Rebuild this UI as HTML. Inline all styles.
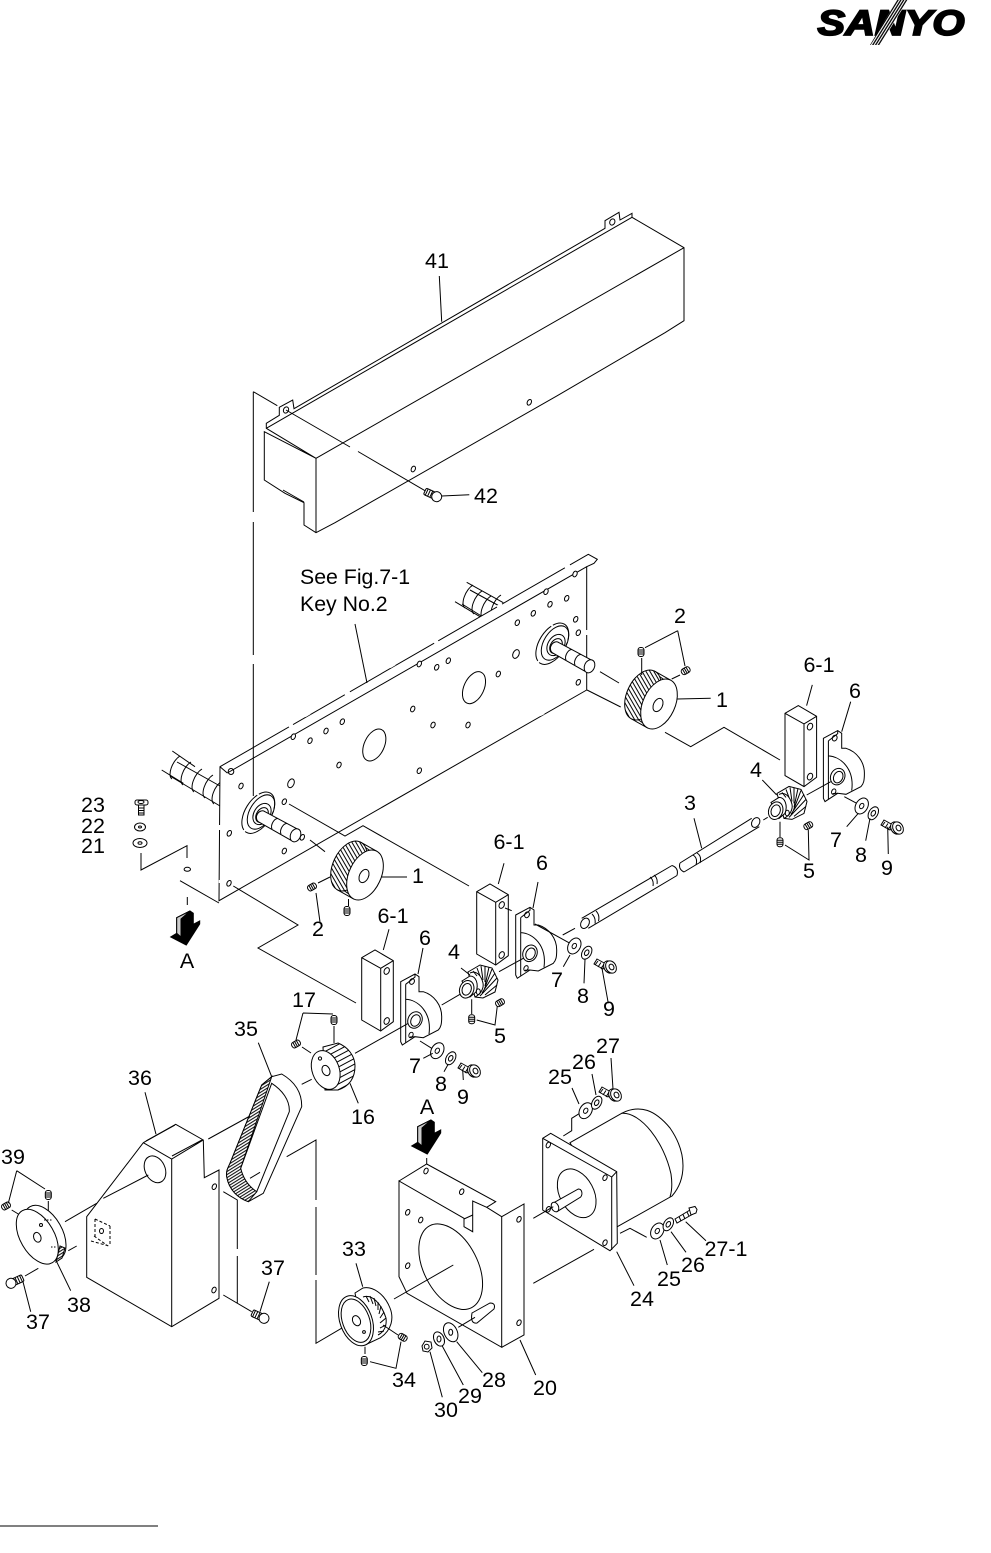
<!DOCTYPE html>
<html><head><meta charset="utf-8"><title>SANYO exploded parts diagram</title>
<style>
html,body{margin:0;padding:0;background:#fff}
svg{display:block}
text{font-family:"Liberation Sans",sans-serif;font-size:21.5px;fill:#000;text-anchor:middle}
text.l{text-anchor:start;font-size:21.3px}
.s{fill:none;stroke:#000;stroke-width:1}
.w{fill:#fff;stroke:#000;stroke-width:1}
.g{fill:none;stroke:#fff;stroke-width:2.5}
</style></head><body>
<svg xmlns="http://www.w3.org/2000/svg" width="991" height="1553" viewBox="0 0 991 1553">
<defs>
<pattern id="h" patternUnits="userSpaceOnUse" width="3.4" height="3.4" patternTransform="rotate(35)"><rect width="3.4" height="3.4" fill="#fff"/><line x1="0" y1="1" x2="3.4" y2="1" stroke="#000" stroke-width="1"/></pattern>
<pattern id="h3" patternUnits="userSpaceOnUse" width="5" height="5" patternTransform="rotate(-28)"><rect width="5" height="5" fill="#fff"/><line x1="0" y1="1" x2="5" y2="1" stroke="#000" stroke-width="1"/></pattern>
<pattern id="b" patternUnits="userSpaceOnUse" width="2.6" height="2.6" patternTransform="rotate(-32)"><rect width="2.6" height="2.6" fill="#fff"/><line x1="0" y1="1" x2="2.6" y2="1" stroke="#000" stroke-width="1"/></pattern>
<pattern id="n" patternUnits="userSpaceOnUse" width="2.4" height="2.4" patternTransform="rotate(-58)"><rect width="2.4" height="2.4" fill="#fff"/><line x1="0" y1="0.8" x2="2.4" y2="0.8" stroke="#000" stroke-width="1.3"/></pattern>

<g id="ho"><ellipse rx="2" ry="3" transform="rotate(25)" class="w"/></g>
<g id="hb"><ellipse rx="3" ry="4.6" transform="rotate(25)" class="w"/></g>

<g id="ss"><rect x="-4.5" y="-3" width="9" height="6" rx="2.5" class="w"/><path class="s" d="M-2-3V3M0-3V3M2-3V3"/></g>

<g id="scr"><rect x="-13" y="-3.500" width="10" height="7" rx="1.500" class="w"/><path class="s" d="M-11-3.500V3.500M-8.500-3.500V3.500M-6-3.500V3.500"/><circle r="5" class="w"/></g>

<g id="arc"><path class="s" d="M5-11A6.5 13.5 28 0 0-3 12"/></g>

<g id="pul"><path d="M11.9-23.7L-4.1-32.7L-27.9 14.7L-11.9 23.7Z" fill="url(#h)" stroke="#000"/><ellipse cx="-16" cy="-9" rx="16" ry="26.5" transform="rotate(25 -16 -9)" fill="url(#h)" stroke="#000"/><ellipse rx="16" ry="26.5" transform="rotate(25)" class="w"/><ellipse cx="-1" cy="1" rx="4.5" ry="7" transform="rotate(25 -1 1)" class="w"/></g>

<g id="bearing">
<ellipse cx="258.3" cy="812.7" rx="13" ry="23" transform="rotate(32 258.3 812.7)" class="w" stroke-dasharray="30 2 40 2"/>
<ellipse cx="261" cy="812" rx="11" ry="19" transform="rotate(32 261 812)" class="s"/>
<ellipse cx="262" cy="814" rx="8" ry="11.5" transform="rotate(32 262 814)" class="s"/>
<ellipse cx="262" cy="815" rx="5.5" ry="8" transform="rotate(32 262 815)" class="s"/>
<path class="w" d="M265 811.7L299.3 830L291.7 840.7L258.3 821.7A5 6 25 0 1 265 811.7Z"/>
<ellipse cx="295.5" cy="835.3" rx="5" ry="6.8" transform="rotate(25 295.5 835.3)" class="w"/>
<path class="s" d="M278 818.5A4 6.500 25 0 0 272 829M287 823.500A4 6.500 25 0 0 281 834"/>
</g>

<g id="block">
<path class="w" d="M361.700 957.700L375 950L393.300 960.700V1021.700L380.700 1031L361.700 1020Z"/>
<path class="s" d="M361.700 957.700L380.700 968.300L393.300 960.700M380.700 968.300V1031"/>
<ellipse cx="386.700" cy="971" rx="2.500" ry="3.500" transform="rotate(25 386.700 971)" class="s"/>
<ellipse cx="386.700" cy="1021" rx="2.500" ry="3.500" transform="rotate(25 386.700 1021)" class="s"/>
</g>

<g id="brk">
<path class="w" d="M400.700 981.700L415 974L419 976.700V991.700H423.300C434 995 441.700 1005 441.700 1016.700C441.700 1024 441 1027 438.300 1030L423.300 1037.700L415 1036.700L402.300 1045L400.700 1041.700Z"/>
<path class="s" d="M405.700 984.300V999.300C418 1000 432 1012 429 1034M405.700 999.300V1042.500M415 974V977L405.700 984.300M410 1037L415 1036.700"/>
<ellipse cx="415" cy="1020" rx="7" ry="8.500" transform="rotate(25 415 1020)" class="w"/>
<ellipse cx="415.500" cy="1020.500" rx="4.500" ry="6" transform="rotate(25 415.500 1020.500)" class="s"/>
<ellipse cx="412" cy="981.500" rx="2.300" ry="3" transform="rotate(25 412 981.500)" class="s"/>
<ellipse cx="411" cy="1035" rx="2" ry="2.800" transform="rotate(25 411 1035)" class="s"/>
</g>

<g id="gear4">
<path class="w" d="M468 972L480 965L492 968L498 980L495 992L483 998L475 997Z"/>
<path class="s" d="M470 973C476 970 481 975 483 983C484 988 481 994 475 997"/>
<path class="s" d="M473 971L477 976M477 968L480 976M481 966L483 980M485 966L485 982M489 967L485 986M492 969L484 990M495 973L482 993M497 978L480 996M497 985L485 995"/>
<path class="w" d="M462 981L470 976C476 976 479 984 476 992L470 997Z"/>
<ellipse cx="466.700" cy="989.300" rx="7" ry="9" transform="rotate(20 466.700 989.300)" class="w"/>
<ellipse cx="466.700" cy="989.300" rx="4.500" ry="6" transform="rotate(20 466.700 989.300)" class="s"/>
<ellipse cx="478.300" cy="991.700" rx="2" ry="2.800" class="s"/>
</g>

<g id="wash"><ellipse rx="6" ry="8.500" transform="rotate(30)" class="w"/><ellipse rx="2" ry="2.800" transform="rotate(30)" class="s"/></g>
<g id="wash2"><ellipse rx="4.500" ry="7" transform="rotate(30)" class="w"/><ellipse rx="2" ry="3" transform="rotate(30)" class="s"/></g>

<g id="bolt">
<path class="w" d="M-13-7L-4-2L-7 3L-16-2Z"/>
<path class="s" d="M-12-5L-15-1M-9-3.500L-12 1M-6-2L-9 3"/>
<ellipse cx="-1" cy="1" rx="5" ry="6.500" transform="rotate(-30 -1 1)" class="w"/>
<ellipse cx="1" cy="1" rx="5" ry="6.500" transform="rotate(-30 1 1)" class="w"/>
<ellipse cx="1.500" cy="1" rx="2.300" ry="3" transform="rotate(-30 1.500 1)" class="s"/>
</g>

<g id="arrow">
<path fill="#000" stroke="#000" d="M427.300 1154L411.700 1146L417.700 1142.300L417.700 1126.700L431 1120L434.300 1122.300V1133.300L440.700 1130V1133Z"/>
<path fill="#ccc" stroke="#000" d="M417.700 1142.300V1126.700L431 1120L422 1128V1146Z"/>
</g>
</defs>

<!-- SANYO logo -->
<text x="891" y="35" textLength="147" lengthAdjust="spacingAndGlyphs" style="font-size:35px;font-weight:bold;font-style:italic;stroke:#000;stroke-width:1.800">SANYO</text>
<path d="M870 45L880 45L908 0L897 0Z" fill="url(#n)"/>

<!-- cover 41 -->
<path class="w" d="M266.300 423.300L279.300 415.300V407.300L292.700 400L294 408.700L605 228.300V220.700L619 212.300L620 220L632 213.300V217.300L684 247.700V320.700L665 332.700L557.300 395.700L371.700 501.700L335 522.700L316 532.700L304 525V502.700L285 493.300L264.300 480V431.700L316 458.300L266.300 428.300Z"/>
<path class="s" d="M266.300 428.300L632 217.300M316 458.300L684 247.700M316 458.300V532.700M283 490L304 502"/>
<ellipse cx="286" cy="410" rx="2.500" ry="3.200" transform="rotate(25 286 410)" class="s"/>
<ellipse cx="612.300" cy="222" rx="2.500" ry="3.200" transform="rotate(25 612.300 222)" class="s"/>
<use href="#ho" x="529.300" y="402.300"/><use href="#ho" x="413.300" y="469"/>
<path class="s" d="M253.300 391.700L277.300 405.700M286 410L350 447M358 451.500L426.700 491.700"/>
<use href="#scr" transform="translate(436.700,496.700) rotate(25)"/>
<path class="s" d="M441.700 496L469.300 494.700M439.300 276L441.700 321.700"/>

<!-- rollers behind plate -->
<path class="s" d="M172.300 751L195 766.700M161.700 770L183.300 783.300M466.700 582.300L503.300 602.700M455 601.700L480 616.700"/>
<g>
<use href="#arc" x="175" y="767"/><use href="#arc" x="186" y="773"/><use href="#arc" x="197" y="780"/><use href="#arc" x="208" y="786"/><use href="#arc" x="217" y="792"/>
<path class="s" d="M177 762L220 786M170 776L220 806"/>
<use href="#arc" x="468" y="596"/><use href="#arc" x="477" y="602"/><use href="#arc" x="486" y="607"/><use href="#arc" x="496" y="606"/>
<path class="s" d="M470 590L503 608M462 604L483 617"/>
</g>

<!-- plate -->
<path class="w" d="M220 766.700L588.300 554.300L597.300 559.300L594 563.300L586.700 566.700V690L219 900.700Z"/>
<path class="s" d="M227.300 773L586.700 566.700M220 766.700L227.300 773"/>
<path class="g" d="M289 727L293 724.500M345 695L350 692M434 643L438 640.500M497 607L502 604M565 568L570 565M305 716L310 713M390 667L395 664M220 825V830M292 853L296 851M410 786L415 783M480 746L484 744M345 816L350 813M540 715L544 713M586.700 630V635M220 880V883"/>
<ellipse cx="231" cy="771.500" rx="2.800" ry="3" class="s"/>
<g>
<use href="#ho" x="241" y="786"/><use href="#ho" x="284.300" y="801.700"/><use href="#ho" x="229.300" y="833.300"/><use href="#ho" x="284.300" y="851"/><use href="#ho" x="229" y="883.300"/><use href="#ho" x="302.300" y="837.300"/><use href="#ho" x="339" y="765"/><use href="#ho" x="310" y="740.700"/><use href="#ho" x="326" y="731"/><use href="#ho" x="342.300" y="721.700"/><use href="#ho" x="293.300" y="736.700"/><use href="#ho" x="412.700" y="709"/><use href="#ho" x="433" y="725"/><use href="#ho" x="468" y="725"/><use href="#ho" x="419.300" y="770.700"/><use href="#ho" x="498.300" y="674"/><use href="#ho" x="436.700" y="667.300"/><use href="#ho" x="448.300" y="660.700"/><use href="#ho" x="419.300" y="664"/><use href="#ho" x="517.300" y="622.700"/><use href="#ho" x="533.300" y="613.300"/><use href="#ho" x="550" y="604.300"/><use href="#ho" x="566.700" y="598.300"/><use href="#ho" x="546" y="591.700"/><use href="#ho" x="575" y="574"/><use href="#ho" x="575.700" y="619.300"/><use href="#ho" x="578.300" y="632.700"/><use href="#ho" x="578.300" y="682.300"/>
<use href="#hb" x="291" y="783.300"/><use href="#hb" x="516" y="654"/>
</g>
<ellipse cx="374.300" cy="745" rx="10" ry="17" transform="rotate(25 374.300 745)" class="s"/>
<ellipse cx="474" cy="687.700" rx="10" ry="17" transform="rotate(25 474 687.700)" class="s"/>
<use href="#bearing"/>
<use href="#bearing" x="294" y="-169"/>
<path class="s" d="M253.300 391.700V512M253.300 522V655M253.300 664V796"/>
<path class="s" d="M355 624L367 683"/>
<path class="s" d="M600 671.700L619 683M587 690L620.700 707"/>
<path class="s" d="M289 804L345 836L363 825.700L469 886M233.300 886L298 925L258 948L356 1003M310 840L325 851.700"/>

<!-- left fasteners -->
<rect x="135" y="800" width="13" height="5" rx="2" class="w"/>
<path class="s" d="M138.500 805V815H144V805M138.500 808H144M138.500 810.500H144M138.500 813H144"/>
<ellipse cx="141" cy="802" rx="3" ry="1.500" class="s"/>
<ellipse cx="140" cy="827" rx="5.500" ry="4" class="w"/><ellipse cx="140" cy="827" rx="1.500" ry="1" class="s"/>
<ellipse cx="140" cy="843" rx="7" ry="4.500" class="w"/><ellipse cx="140" cy="843" rx="2" ry="1.300" class="s"/>
<path class="s" d="M141 853V870L187 845.700V858M180 880.700L219 903M187.300 897V905"/>
<ellipse cx="187.300" cy="869.300" rx="3.200" ry="2" class="s"/>
<g transform="translate(-241,-209)"><use href="#arrow"/></g>

<!-- pulleys 1 -->
<use href="#pul" transform="translate(365,875)"/>
<use href="#pul" transform="translate(659,704)"/>
<path class="s" d="M381 877L407 877M677.300 699L710.700 698.300"/>
<use href="#ss" transform="translate(312,887) rotate(-30)"/>
<use href="#ss" transform="translate(347,911) rotate(90)"/>
<path class="s" d="M318 883L330 877M348.500 899V906M316 893L320 922"/>
<use href="#ss" transform="translate(641,652) rotate(90)"/>
<use href="#ss" transform="translate(685.700,670.700) rotate(-30)"/>
<path class="s" d="M677.700 630.700L645 647.700M677.700 630.700L685 666M641.700 658V675M671.700 679L680 675"/>
<path class="s" d="M665 732.300L690.700 746.700L724 727.300L780 760"/>

<!-- blocks and brackets -->
<use href="#block"/><use href="#block" x="115" y="-66"/><use href="#block" x="423.300" y="-244.400"/>
<use href="#brk"/><use href="#brk" x="115" y="-66.700"/><use href="#brk" x="422.700" y="-243.400"/>
<path class="s" d="M389 929.300L383.300 950M504 863.300L498.300 884M812.300 684.900L806.600 705.600"/>
<path class="s" d="M423 948L418 974M538 882L533 908M850.700 701.700L841.700 731.700"/>
<use href="#gear4"/><use href="#gear4" x="309" y="-178.600"/>
<path class="s" d="M441.700 1005L460 994.300M499 971.700L523.300 958.300M355 1053.300L408.300 1023.300M562.700 935L575 928.300M535 924L570 943.300M505 908L511.700 910.700M763.300 820L767.700 817.300M806.700 795L830.700 781.700M844.300 796.700L856.700 803.300M420 1041L431.700 1048.300"/>
<path class="s" d="M461 968L470 975M762.300 780L776.700 795"/>

<!-- gear 4 screws -->
<use href="#ss" transform="translate(471.700,1019.300) rotate(90)"/>
<use href="#ss" transform="translate(500,1002.700) rotate(-30)"/>
<path class="s" d="M471.700 999.300V1014M476.700 1020L495 1025L497.300 1006"/>
<use href="#ss" transform="translate(780,842.300) rotate(90)"/>
<use href="#ss" transform="translate(808.300,825.700) rotate(-30)"/>
<path class="s" d="M780 821.700V837M785 845L809 860L808.300 830"/>

<!-- washers -->
<use href="#wash" x="574.300" y="946"/><use href="#wash2" x="586.700" y="952.700"/><use href="#bolt" x="610" y="966"/>
<path class="s" d="M570 955L563.300 966.700M585 959.300L584 983.300M601.700 966.700L608.300 1003.300"/>
<use href="#wash" x="437.300" y="1050.700"/><use href="#wash2" x="450.700" y="1058.300"/><use href="#bolt" x="474" y="1070"/>
<path class="s" d="M432.700 1053.300L423.300 1058.300M448.300 1064L444 1071.700M462.700 1070L463.300 1080"/>
<use href="#wash" x="861.700" y="806"/><use href="#wash2" x="873.300" y="813.300"/><use href="#bolt" x="897" y="827"/>
<path class="s" d="M858.300 813.300L846.700 826.700M870 818.300L865.700 840.700M887.700 826.700L888.300 854"/>

<!-- shaft 3 -->
<path class="s" d="M581.700 918.300L672 865.500M588.300 928.300L677 875.500M680 863L751.700 818.300M684 872L759.300 826.700"/>
<path class="s" d="M672 865.500Q679 868 677 875.500M680 863Q678 869 684 872"/>
<ellipse cx="755.700" cy="822.500" rx="3.800" ry="5.200" transform="rotate(30 755.700 822.500)" class="w"/>
<ellipse cx="585" cy="923.300" rx="4" ry="5.500" transform="rotate(30 585 923.300)" class="w"/>
<path class="s" d="M592 914Q596 918 595 923.500M596 911Q600 915 598.500 921M650 877Q654 880 653 886M654 875Q658 878 657 884M693 855Q698 858 696 865M697 853Q702 856 700 863"/>
<path class="s" d="M694 818.300L701.700 848.300"/>

<!-- pulley 16 -->
<path d="M323 1047L338 1043C348 1047 355 1056 355 1066C355 1078 350 1086 338 1090L325 1090Z" fill="url(#h3)" stroke="#000"/>
<ellipse cx="325.700" cy="1070" rx="13.500" ry="20" transform="rotate(-20 325.700 1070)" class="w"/>
<ellipse cx="326" cy="1070.500" rx="3.800" ry="5.300" transform="rotate(-22 326 1070.500)" class="s"/>
<circle cx="320" cy="1058.500" r="1.600" class="s"/>
<use href="#ss" transform="translate(296,1044) rotate(-30)"/>
<use href="#ss" transform="translate(334,1020) rotate(90)"/>
<path class="s" d="M303 1013L296 1040M303 1013L333 1014M302 1047L311 1053M334 1026V1043M350 1083.300L358.300 1103.300"/>
<path class="s" d="M301.700 1084.300L311.700 1079.300"/>

<!-- block 36 -->
<path class="w" d="M143.300 1142.700L175.700 1124.300L203.300 1140L204.300 1177.700L219 1170V1298.300L171.700 1326.700L86.700 1277.300V1216.700Z"/>
<path class="s" d="M143.300 1142.700L171.700 1159L203.300 1140M171.700 1159V1326.700M146 1141L175 1125M172 1156L202 1140"/>
<ellipse cx="155" cy="1169.300" rx="10" ry="14" transform="rotate(-25 155 1169.300)" class="w"/>
<use href="#ho" x="214.300" y="1186.700"/><use href="#ho" x="214" y="1290"/>
<path class="s" stroke-dasharray="3 2" d="M95 1219L110 1226M95 1219V1237M110 1226V1245M91 1241L109 1246M94 1236L108 1246"/>
<path class="s" d="M148.300 1175L103.300 1198.300M96.700 1203.300L65 1221.700M76.700 1246L68.300 1250.700M38.300 1268.300L25 1276M145 1092.300L156 1134.300M269.300 1281.700L260 1311.700M21.700 1276.700L30.700 1311.700M55 1258.300L70.700 1290.700"/>
<ellipse cx="101.500" cy="1231" rx="2" ry="2.500" class="s"/>

<!-- belt 35 -->
<path class="w" d="M261.700 1085L271.700 1076.700L281.700 1074C292 1080 302 1090 301.700 1106.700L263.300 1193.300L248.300 1201.700C238 1198 229 1190 226.700 1176.700C226 1170 228 1168 230 1163.300Z"/>
<path d="M261.700 1085L271.700 1076.700L240.700 1168.300L248.300 1181.700L256.700 1191.700L248.300 1201.700C238 1198 229 1190 226.700 1176.700C226 1170 228 1168 230 1163.300Z" fill="url(#b)" stroke="#000"/>
<path class="w" d="M271.700 1083.300C282 1090 290 1100 289.300 1111.700L256.700 1191.700C248 1186 243 1178 240.700 1168.300Z"/>
<path class="s" d="M258.300 1042.700L271.700 1076.700M208.300 1139L250 1116M250 1178.300L260 1172.300"/>
<path class="s" d="M223.300 1191.700L237.300 1200V1249M237.300 1256V1303.300M223.300 1295L251.700 1311.700"/>
<path class="s" d="M286.700 1156.700L316 1140V1200M316 1207V1275M316 1280V1343.300L350 1323.300"/>

<!-- screws left -->
<use href="#ss" transform="translate(6,1206) rotate(-30)"/>
<use href="#ss" transform="translate(48.300,1195) rotate(90)"/>
<path class="s" d="M16.700 1170.700L8.300 1203.300M16.700 1170.700L45 1189M48.300 1201V1211M11.700 1210L18.300 1214"/>
<!-- disk 38 -->
<ellipse cx="45" cy="1232.700" rx="17" ry="30" transform="rotate(-30 45 1232.700)" class="w"/>
<path d="M60 1246L65 1248L62 1258L56 1262Z" fill="url(#b)" stroke="#000"/>
<ellipse cx="37.300" cy="1236.700" rx="17" ry="30" transform="rotate(-30 37.300 1236.700)" class="w"/>
<ellipse cx="37.300" cy="1237.300" rx="3.600" ry="5" transform="rotate(-20 37.300 1237.300)" class="s"/>
<circle cx="41" cy="1225" r="1.500" class="s"/><path class="s" stroke-dasharray="1.500 1.500" d="M44 1220H52M51 1247H57"/>
<use href="#scr" transform="translate(11,1283.300) rotate(155)"/>
<use href="#scr" transform="translate(264,1318.300) rotate(25)"/>

<!-- pulley 33 -->
<path class="w" d="M355 1293L363 1288C372 1286 384 1293 390 1308C394 1318 392 1330 380 1338L365 1345Z"/>
<path class="s" d="M363 1297C372 1294 381 1303 386 1318C387 1326 384 1332 378 1335"/>
<path class="s" d="M366 1296L369 1302M370 1296L373 1304M374 1298L376 1306M378 1302L378 1310M381 1306L379 1314M384 1312L380 1318M386 1318L380 1323M386 1325L380 1328M384 1331L378 1332"/>
<ellipse cx="356" cy="1320.700" rx="16" ry="26" transform="rotate(-20 356 1320.700)" class="w"/>
<ellipse cx="356" cy="1320.700" rx="13.500" ry="22.500" transform="rotate(-20 356 1320.700)" class="s"/>
<ellipse cx="356.500" cy="1320.700" rx="3.800" ry="5.300" transform="rotate(-25 356.500 1320.700)" class="s"/>
<circle cx="364" cy="1332" r="1.400" class="s"/>
<use href="#ss" transform="translate(364.300,1361) rotate(90)"/>
<use href="#ss" transform="translate(402.700,1337.300) rotate(30)"/>
<path class="s" d="M356 1263.300L362.700 1286.700M365 1346.700V1354M370 1361.700L396 1368.300L401 1341.700M383 1325L398 1335"/>

<!-- plate 20 -->
<path class="w" d="M399 1181L426.700 1164L495.700 1201.700L486.700 1207.300L472.700 1201V1231.700L464 1226.700V1218.300L399 1181V1276.700L407 1293.300L501.700 1347.300V1216.700L524 1204V1335L501.700 1347.300"/>
<path class="s" d="M486.700 1207.300L501.700 1216.700M472.700 1215L464 1219"/>
<ellipse cx="450.700" cy="1266.700" rx="27" ry="46" transform="rotate(-27 450.700 1266.700)" class="s"/>
<use href="#ho" x="426" y="1171"/><use href="#ho" x="461.700" y="1191.700"/><use href="#ho" x="407.700" y="1212.300"/><use href="#ho" x="420.700" y="1220"/><use href="#ho" x="407.700" y="1265.700"/><use href="#ho" x="519" y="1219.300"/><use href="#ho" x="519" y="1322.700"/>
<path class="w" d="M472 1313L490 1303Q496 1303 494 1309L477 1323Q470 1324 472 1313Z"/>
<path class="s" d="M394 1299L453.300 1265M426.700 1164V1158M458.300 1327.300L475 1317.300M520 1340L535.700 1375M456.700 1341.700L482.300 1372.700M441.700 1345L463.300 1385M430 1351.700L442.300 1397.300"/>
<use href="#arrow"/>
<ellipse cx="450.700" cy="1332.300" rx="6.500" ry="10" transform="rotate(-25 450.700 1332.300)" class="w"/><ellipse cx="450.700" cy="1332.300" rx="2" ry="3" class="s"/>
<ellipse cx="439" cy="1339" rx="5" ry="7.500" transform="rotate(-25 439 1339)" class="w"/><ellipse cx="439" cy="1339" rx="2" ry="3" class="s"/>
<path class="w" d="M422 1346L425 1341L431 1342L432 1348L428 1352L423 1351Z"/><circle cx="426.700" cy="1346.700" r="2.400" class="s"/>

<!-- motor 24 -->
<path class="w" d="M570 1142.700L621.700 1113.300C640 1104 655 1110 670 1128C688 1154 686 1180 672 1196L617.300 1226.700Z"/>
<path class="s" d="M621.700 1113.300C641 1112 664 1142 671 1174Q673 1188 670 1196.700"/>
<path class="w" d="M542.700 1138.300L550.700 1133.300L616.700 1171.700L617.300 1243.300L610 1250.700L542.700 1210Z"/>
<path class="s" d="M542.700 1138.300L611.700 1177V1250M611.700 1177L616.700 1171.700"/>
<ellipse cx="576.700" cy="1193.300" rx="17" ry="26" transform="rotate(-28 576.700 1193.300)" class="s"/>
<use href="#ho" x="548.300" y="1145"/><use href="#ho" x="605" y="1177.700"/><use href="#ho" x="605" y="1242.700"/><use href="#ho" x="548.300" y="1209.300"/>
<path class="w" d="M552 1203.700L578.300 1189C582 1189 583 1194 580.700 1197L557 1211.700Z"/>
<ellipse cx="555" cy="1207" rx="3.500" ry="5" transform="rotate(-25 555 1207)" class="w"/>
<path class="s" d="M533.300 1218.300L553.300 1206.700M533.300 1283.300L594 1249.300M563.300 1136L571.700 1130.700V1118.300L580.700 1112.700M620 1233.300L630 1228.300L646.700 1237.300"/>
<use href="#wash" x="585.700" y="1110.700"/><use href="#wash2" x="596.700" y="1102.700"/><use href="#bolt" x="615" y="1094"/>
<path class="s" d="M579 1104L572 1088M596 1095L592 1074M613 1089L611 1058"/>
<use href="#wash" x="657.300" y="1231"/><use href="#wash2" x="668.300" y="1224.300"/>
<path class="w" d="M675 1219L690 1210L693 1214L677 1223Z"/><path class="s" d="M679 1216.500L681 1221M683 1214.500L685 1219M687 1212L689 1216"/>
<path class="w" d="M689 1208L695 1206.500L697 1209.500L696 1213L691 1215Z"/>
<path class="s" d="M685.700 1221.700L706 1240.700M671 1231.700L686 1252.300M660 1240L667.300 1265M616.700 1251.700L634 1285.700"/>

<!-- rule -->
<line x1="0" y1="1526" x2="158" y2="1526" stroke="#000" stroke-width="1"/>

<!-- labels -->
<text x="437" y="268">41</text><text x="486" y="503">42</text>
<text class="l" x="300" y="584">See Fig.7-1</text><text class="l" x="300" y="611">Key No.2</text>
<text x="680" y="623">2</text><text x="722" y="707">1</text><text x="819" y="672">6-1</text><text x="855" y="698">6</text><text x="756" y="777">4</text><text x="690" y="810">3</text><text x="809" y="878">5</text><text x="836" y="847">7</text><text x="861" y="862">8</text><text x="887" y="875">9</text>
<text x="93" y="812">23</text><text x="93" y="833">22</text><text x="93" y="853">21</text>
<text x="418" y="883">1</text><text x="318" y="936">2</text><text x="509" y="849">6-1</text><text x="542" y="870">6</text>
<text x="557" y="987">7</text><text x="583" y="1003">8</text><text x="609" y="1016">9</text><text x="454" y="959">4</text><text x="500" y="1043">5</text>
<text x="393" y="923">6-1</text><text x="425" y="945">6</text><text x="415" y="1073">7</text><text x="441" y="1091">8</text><text x="463" y="1104">9</text>
<text x="187" y="968">A</text><text x="427" y="1114">A</text>
<text x="304" y="1007">17</text><text x="246" y="1036">35</text><text x="140" y="1085">36</text><text x="13" y="1164">39</text><text x="79" y="1312">38</text><text x="38" y="1329">37</text><text x="273" y="1275">37</text><text x="363" y="1124">16</text>
<text x="354" y="1256">33</text><text x="404" y="1387">34</text><text x="446" y="1417">30</text><text x="470" y="1403">29</text><text x="494" y="1387">28</text><text x="545" y="1395">20</text>
<text x="642" y="1306">24</text><text x="669" y="1286">25</text><text x="693" y="1272">26</text><text x="726" y="1256">27-1</text>
<text x="560" y="1084">25</text><text x="584" y="1069">26</text><text x="608" y="1053">27</text>
</svg>
</body></html>
